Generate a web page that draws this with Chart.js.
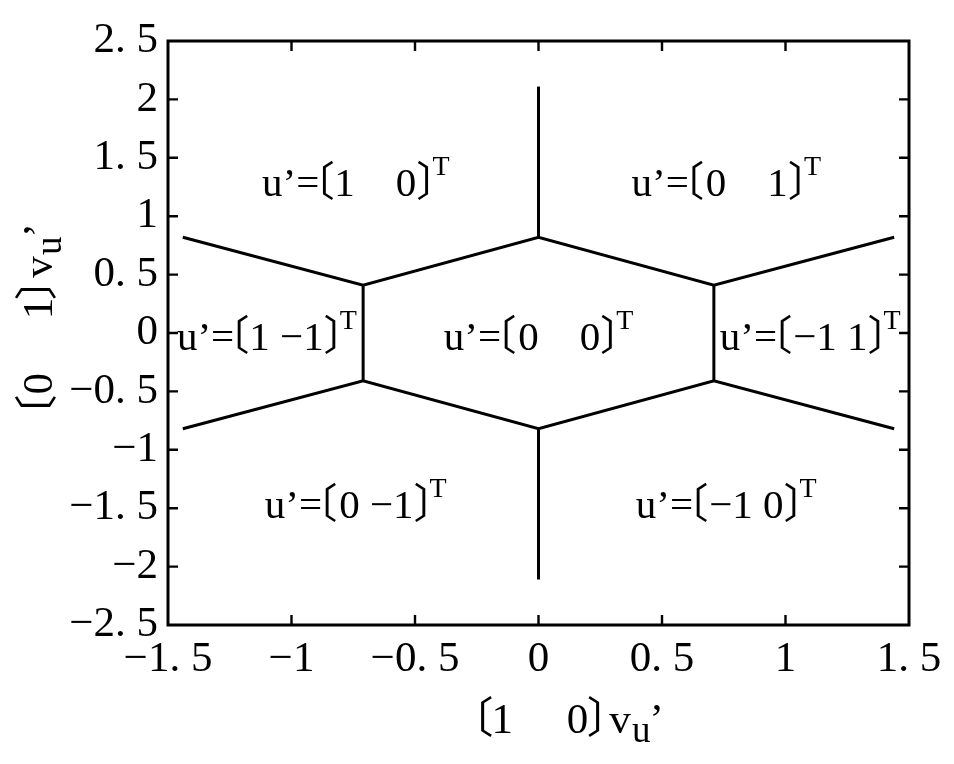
<!DOCTYPE html>
<html><head><meta charset="utf-8">
<script src="https://cdn.jsdelivr.net/npm/chart.js@4"></script>
<style>html,body{margin:0;padding:0;background:#fff}#wrap{width:954px;height:764px}</style>
</head><body><div id="wrap"><canvas id="c" width="954" height="764"></canvas></div>
<script>
// ---- tick values / labels ----
const xTickValues = [-1.5, -1, -0.5, 0, 0.5, 1, 1.5];
const xTickLabels = ["−1. 5", "−1", "−0. 5", "0", "0. 5", "1", "1. 5"];
const yTickValues = [-2.5, -2, -1.5, -1, -0.5, 0, 0.5, 1, 1.5, 2, 2.5];
const yTickLabels = ["−2. 5", "−2", "−1. 5", "−1", "−0. 5", "0", "0. 5", "1", "1. 5", "2", "2. 5"];

// ---- boundary lines ----
const upperX = [-1.44, -0.71, 0, 0.71, 1.44];
const upperY = [0.82, 0.41, 0.82, 0.41, 0.82];
const lowerX = [-1.44, -0.71, 0, 0.71, 1.44];
const lowerY = [-0.82, -0.41, -0.82, -0.41, -0.82];
const topStemX = [0, 0];
const topStemY = [0.82, 2.11];
const bottomStemX = [0, 0];
const bottomStemY = [-0.82, -2.11];
const leftStemX = [-0.71, -0.71];
const leftStemY = [-0.41, 0.41];
const rightStemX = [0.71, 0.71];
const rightStemY = [-0.41, 0.41];

// ---- region labels ----
const regionVectors = ["1　0", "0　1", "1 −1", "0　0", "−1 1", "0 −1", "−1 0"];
const regionX = [-0.74, 0.76, -1.10, 0.0, 1.10, -0.74, 0.76];
const regionY = [1.29, 1.29, -0.03, -0.03, -0.03, -1.47, -1.47];
const xTitleVector = "1　 0";
const yTitleVector = "0　 1";

const SERIF = "'Liberation Serif', 'DejaVu Serif', serif";
const CJK = "'Noto Sans CJK JP', 'Noto Sans CJK SC', sans-serif";

function pts(xs, ys) { return xs.map((x, i) => ({ x: x, y: ys[i] })); }
function lineDs(xs, ys) {
  return { data: pts(xs, ys), showLine: true, borderColor: '#000', borderWidth: 3,
           pointRadius: 0, fill: false, tension: 0 };
}

function layoutPieces(ctx, pieces) {
  let x = 0; const out = [];
  pieces.forEach((p, i) => {
    ctx.font = p.font;
    const m = ctx.measureText(p.t);
    const inkL = -m.actualBoundingBoxLeft, inkR = m.actualBoundingBoxRight;
    if (i > 0) x += p.gap;
    out.push({ p: p, dx: x - inkL });
    x += (inkR - inkL);
  });
  return { items: out, width: x };
}
function drawPieces(ctx, pieces, cx, baseline) {
  const L = layoutPieces(ctx, pieces);
  const x0 = cx - L.width / 2;
  ctx.textAlign = 'left'; ctx.textBaseline = 'alphabetic';
  L.items.forEach(it => {
    ctx.font = it.p.font;
    ctx.fillText(it.p.t, x0 + it.dx, baseline + (it.p.dy || 0));
  });
}
function regionPieces(vec, s) {
  return [
    { t: "u’=", font: s + "px " + SERIF, gap: 0 },
    { t: "〔", font: s + "px " + CJK, gap: 0.11 * s },
    { t: vec, font: s + "px " + SERIF, gap: 0.09 * s },
    { t: "〕", font: s + "px " + CJK, gap: 0.06 * s },
    { t: "T", font: Math.round(s * 0.68) + "px " + SERIF, gap: 0.1 * s, dy: -0.52 * s }
  ];
}
function titlePieces(vec, s) {
  return [
    { t: "〔", font: s + "px " + CJK, gap: 0 },
    { t: vec, font: s + "px " + SERIF, gap: 0.05 * s },
    { t: "〕", font: s + "px " + CJK, gap: 0.02 * s },
    { t: "v", font: s + "px " + SERIF, gap: 0.22 * s },
    { t: "u", font: Math.round(s * 0.85) + "px " + SERIF, gap: 0.02 * s, dy: 0.22 * s },
    { t: "’", font: s + "px " + SERIF, gap: 0.06 * s }
  ];
}

const frameAndText = {
  id: 'frameAndText',
  afterDraw(chart) {
    const ctx = chart.ctx, a = chart.chartArea;
    const xs = chart.scales.x, ys = chart.scales.y;
    ctx.save();
    ctx.strokeStyle = '#000'; ctx.lineWidth = 3; ctx.lineCap = 'square';
    ctx.strokeRect(a.left, a.top, a.right - a.left, a.bottom - a.top);
    const TL = 10;
    ctx.beginPath();
    xTickValues.forEach(v => {
      const px = xs.getPixelForValue(v);
      if (v === xs.min || v === xs.max) return;
      ctx.moveTo(px, a.bottom); ctx.lineTo(px, a.bottom - TL);
      ctx.moveTo(px, a.top); ctx.lineTo(px, a.top + TL);
    });
    yTickValues.forEach(v => {
      const py = ys.getPixelForValue(v);
      if (v === ys.min || v === ys.max) return;
      ctx.moveTo(a.left, py); ctx.lineTo(a.left + TL, py);
      ctx.moveTo(a.right, py); ctx.lineTo(a.right - TL, py);
    });
    ctx.lineCap = 'butt';
    ctx.lineWidth = 2.4;
    ctx.stroke();

    ctx.fillStyle = '#000';
    const S = 41;
    regionVectors.forEach((vec, i) => {
      const cx = xs.getPixelForValue(regionX[i]);
      const cy = ys.getPixelForValue(regionY[i]);
      drawPieces(ctx, regionPieces(vec, S), cx, cy + 0.33 * S);
    });

    const TS = 43;
    const xcx = (a.left + a.right) / 2 + 32;
    drawPieces(ctx, titlePieces(xTitleVector, TS), xcx, a.bottom + 108);
    ctx.save();
    ctx.translate(52, (a.top + a.bottom) / 2 - 16);
    ctx.rotate(-Math.PI / 2);
    drawPieces(ctx, titlePieces(yTitleVector, TS), 0, 0);
    ctx.restore();
    ctx.restore();
  }
};

new Chart(document.getElementById('c'), {
  type: 'scatter',
  data: {
    datasets: [
      lineDs(upperX, upperY), lineDs(lowerX, lowerY),
      lineDs(topStemX, topStemY), lineDs(bottomStemX, bottomStemY),
      lineDs(leftStemX, leftStemY), lineDs(rightStemX, rightStemY)
    ]
  },
  options: {
    responsive: false, animation: false,
    layout: { padding: { left: 0, right: 45, top: 41, bottom: 0 } },
    plugins: { legend: { display: false }, tooltip: { enabled: false } },
    scales: {
      x: {
        type: 'linear', min: -1.5, max: 1.5,
        afterBuildTicks: s => { s.ticks = xTickValues.map(v => ({ value: v })); },
        afterFit: s => { s.height = 139; },
        grid: { display: false, drawTicks: false },
        border: { display: false },
        ticks: {
          color: '#000', padding: 9, maxRotation: 0, autoSkip: false,
          font: { family: SERIF, size: 43 },
          callback: v => { const i = xTickValues.indexOf(Math.round(v * 10) / 10); return i >= 0 ? xTickLabels[i] : ''; }
        }
      },
      y: {
        type: 'linear', min: -2.5, max: 2.5,
        afterBuildTicks: s => { s.ticks = yTickValues.map(v => ({ value: v })); },
        afterFit: s => { s.width = 168; },
        grid: { display: false, drawTicks: false },
        border: { display: false },
        ticks: {
          color: '#000', padding: 10, autoSkip: false,
          font: { family: SERIF, size: 43 },
          callback: v => { const i = yTickValues.indexOf(Math.round(v * 10) / 10); return i >= 0 ? yTickLabels[i] : ''; }
        }
      }
    }
  },
  plugins: [frameAndText]
});
</script></body></html>
